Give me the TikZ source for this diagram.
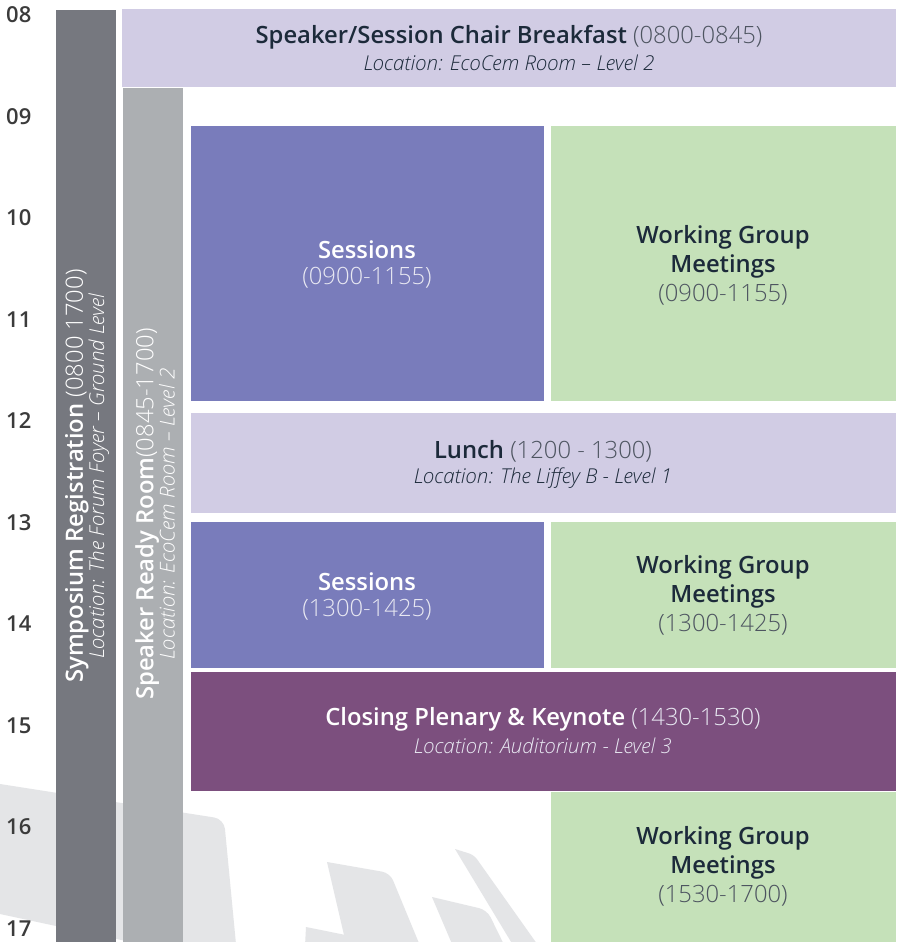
\documentclass[tikz,border=0pt]{standalone}
\usepackage{fontspec}
\setmainfont{Open Sans}
\IfFontExistsTF{Open Sans Semibold}{\newfontfamily\sbf{Open Sans Semibold}}{\newfontfamily\sbf{Open Sans}[UprightFont=*-Bold]}
\IfFontExistsTF{Open Sans Light}{\newfontfamily\lgt{Open Sans Light}}{\newfontfamily\lgt{Open Sans}}
\definecolor{darkbar}{HTML}{76787F}
\definecolor{lightbar}{HTML}{ACAFB2}
\definecolor{lav}{HTML}{D1CCE4}
\definecolor{sess}{HTML}{797CBB}
\definecolor{wg}{HTML}{C5E1B9}
\definecolor{plen}{HTML}{7C4F7E}
\definecolor{wm}{HTML}{E4E5E7}
\definecolor{navy}{HTML}{1C2A3A}
\definecolor{hourc}{HTML}{3B3B3B}
\definecolor{parc}{HTML}{4D5460}
\definecolor{lightw}{HTML}{E8E8F2}
\newcommand{\bigsz}{\fontsize{23.8}{27}\selectfont}
\newcommand{\locsz}{\fontsize{20.5}{24}\selectfont}
\tikzset{
  hour/.style={anchor=west, font=\fontsize{22}{22}\selectfont\sbf, text=hourc, inner sep=0pt},
  tline/.style={font=\bigsz, inner sep=0pt, anchor=center},
  lline/.style={font=\locsz\lgt\itshape, inner sep=0pt, anchor=center},
  vtext/.style={rotate=90, align=center, inner sep=0pt, anchor=center},
}
\begin{document}
\begin{tikzpicture}[x=1pt,y=-1pt]
\useasboundingbox (0,0) rectangle (900,942);
\fill[white] (0,0) rectangle (900,942);
% watermark shapes
\begin{scope}
\clip (0,0) rectangle (900,942);
\fill[wm] (0,784) [rounded corners=10pt] -- (224,819) -- (238,965) [sharp corners] -- (0,914) -- cycle;
\fill[wm] (327,862) [rounded corners=8pt] -- (390,873) -- (428,965) [sharp corners] -- (351,965) -- cycle;
\fill[wm] (432,897) [rounded corners=8pt] -- (487,910) -- (514,965) [sharp corners] -- (461,965) -- cycle;
\fill[wm] (455,849) [rounded corners=5pt] -- (474,855) -- (552,965) [sharp corners] -- (525,965) -- cycle;
\fill[wm] (306,927) [rounded corners=6pt] -- (420,950) [sharp corners] -- (420,965) -- (304,965) -- cycle;
\end{scope}
% hour labels
\foreach \lab [count=\i from 0] in {08,09,10,11,12,13,14,15,16,17}{
  \node[hour] (h\lab) at (6,{15+\i*101.5}) {\lab};
}
% vertical bars
\fill[darkbar] (56,10) rectangle (116,942);
\fill[lightbar] (123,88) rectangle (183,942);
\node[vtext, text=white] (reg) at (87,476) {{\bigsz\sbf Symposium Registration \lgt(0800 1700)}\\[-1pt]{\locsz\lgt\itshape Location: The Forum Foyer – Ground Level}};
\node[vtext, text=white] (ready) at (155,514) {{\bigsz\sbf Speaker Ready Room\lgt(0845-1700)}\\[-1pt]{\locsz\lgt\itshape Location: EcoCem Room – Level 2}};
% boxes
\fill[lav] (122,9) rectangle (896,87);
\fill[sess] (191,126) rectangle (544,401);
\fill[wg] (551,126) rectangle (896,401);
\fill[lav] (191,413) rectangle (896,513);
\fill[sess] (191,522) rectangle (544,668);
\fill[wg] (551,522) rectangle (896,668);
\fill[plen] (191,672) rectangle (896,791);
\fill[wg] (551,792) rectangle (896,942);
% texts
\node[tline, text=navy] (bk1) at (509,37) {\sbf Speaker/Session Chair Breakfast \lgt\color{parc}(0800-0845)};
\node[lline, text=navy] (bk2) at (509,63) {Location: EcoCem Room – Level 2};
\node[tline, text=white] (s1a) at (367,250) {\sbf Sessions};
\node[tline, text=lightw] (s1b) at (367,278) {\lgt(0900-1155)};
\node[tline, text=navy] (w1a) at (723,237) {\sbf Working Group};
\node[tline, text=navy] (w1b) at (723,266) {\sbf Meetings};
\node[tline, text=parc] (w1c) at (723,295) {\lgt(0900-1155)};
\node[tline, text=navy] (l1) at (543,451) {\sbf Lunch \lgt\color{parc}(1200 - 1300)};
\node[lline, text=navy] (l2) at (543,478) {Location: The Liffey B - Level 1};
\node[tline, text=white] (s2a) at (367,582) {\sbf Sessions};
\node[tline, text=lightw] (s2b) at (367,610) {\lgt(1300-1425)};
\node[tline, text=navy] (w2a) at (723,567) {\sbf Working Group};
\node[tline, text=navy] (w2b) at (723,596) {\sbf Meetings};
\node[tline, text=parc] (w2c) at (723,625) {\lgt(1300-1425)};
\node[tline, text=white] (p1) at (543,719) {\sbf Closing Plenary \& Keynote \lgt\color{lightw}(1430-1530)};
\node[lline, text=lightw] (p2) at (543,746) {Location: Auditorium - Level 3};
\node[tline, text=navy] (w3a) at (723,838) {\sbf Working Group};
\node[tline, text=navy] (w3b) at (723,867) {\sbf Meetings};
\node[tline, text=parc] (w3c) at (723,896) {\lgt(1530-1700)};
\end{tikzpicture}
\end{document}
